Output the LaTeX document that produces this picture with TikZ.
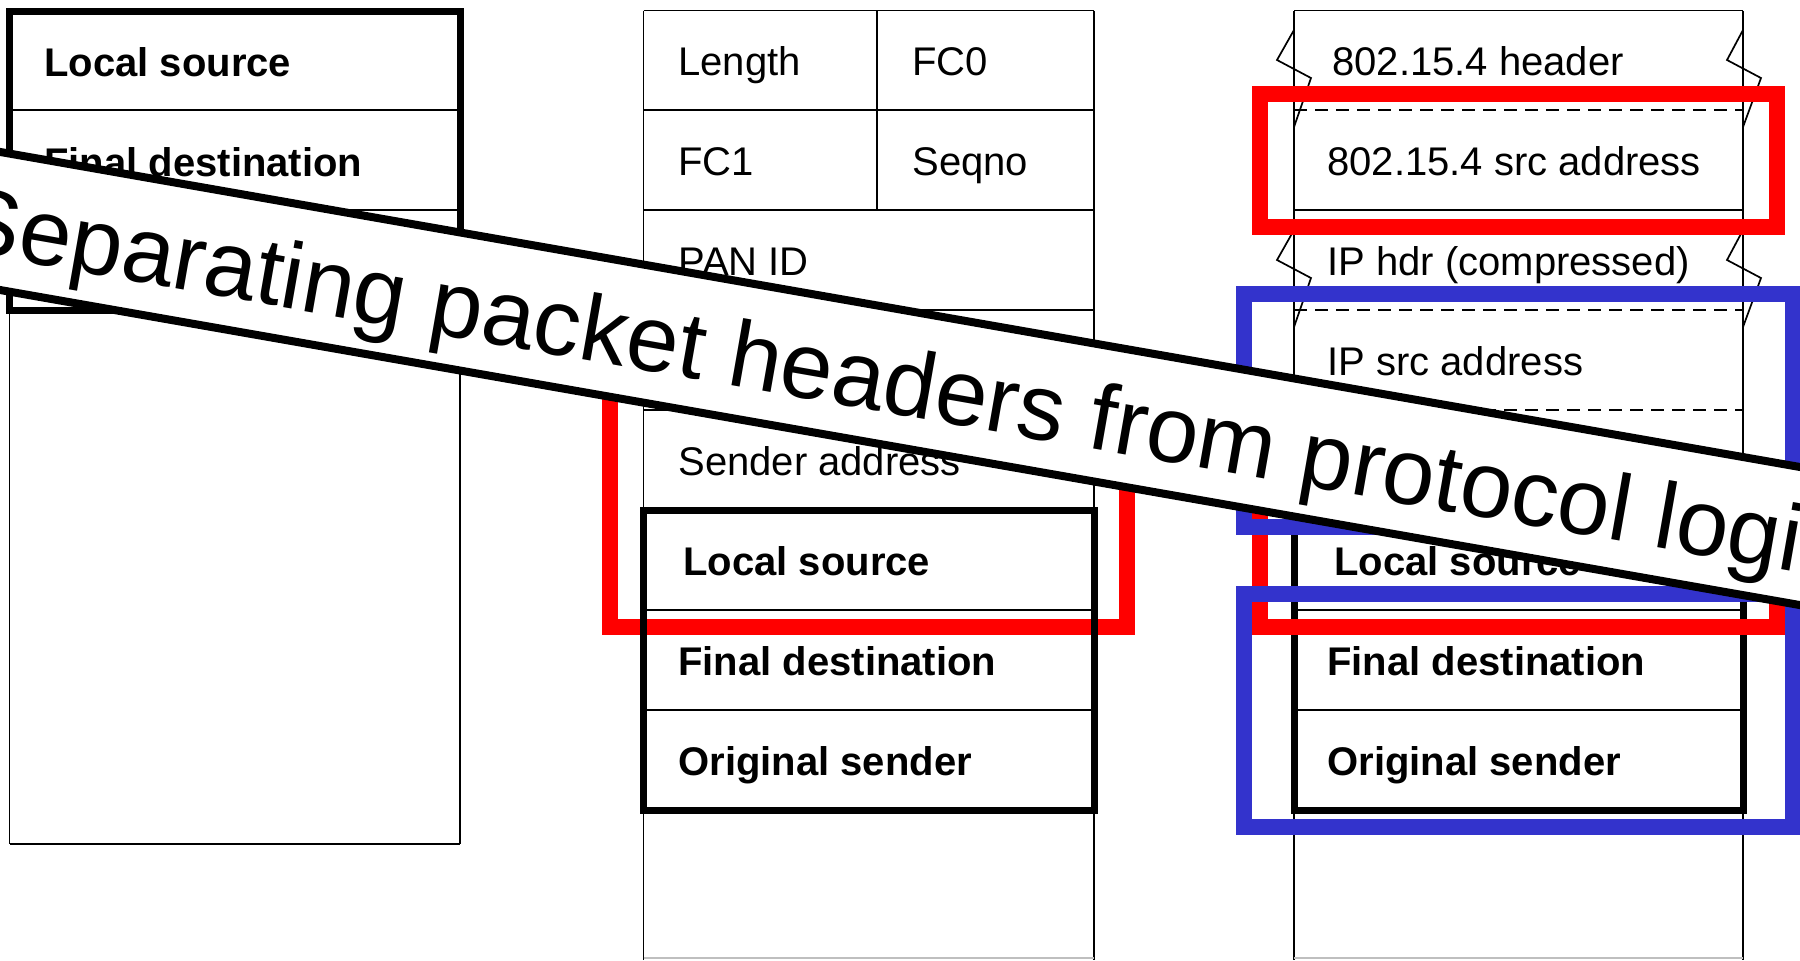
\documentclass[tikz,border=0pt]{standalone}
\usepackage{fontspec}
\setmainfont{Liberation Sans}
\begin{document}
\begin{tikzpicture}[x=0.5pt,y=-0.5pt,
  thinln/.style={line width=0.85pt, black},
  dashln/.style={line width=0.85pt, black, dash pattern=on 6.5pt off 4pt},
  thickbox/.style={line width=3.5pt, black},
  redbox/.style={line width=8pt, draw={rgb,255:red,255;green,0;blue,0}},
  bluebox/.style={line width=8pt, draw={rgb,255:red,51;green,51;blue,204}},
  txt/.style={anchor=base west, inner sep=0pt, font=\fontsize{20}{24}\selectfont},
  btxt/.style={anchor=base west, inner sep=0pt, font=\bfseries\fontsize{20}{24}\selectfont},
  banner/.style={draw, fill=white, line width=4pt, rotate=-9.93, minimum width=1300pt, minimum height=68pt, inner sep=0pt},
  bannertxt/.style={rotate=-9.93, anchor=base, inner sep=0pt, font=\fontsize{47}{56}\selectfont}
]
\useasboundingbox (0,0) rectangle (1800,960);
\clip (0,0) rectangle (1800,960);
\fill[white] (0,0) rectangle (1800,960);

% ---------- left column ----------
\draw[thinln] (9.5,11) -- (9.5,844);
\draw[thinln] (460,11) -- (460,844);
\draw[line width=1.3pt] (9.5,844) -- (460,844);
\draw[thinln] (9.5,110) -- (460,110);
\draw[thinln] (9.5,210) -- (460,210);
\node[btxt] (l0) at (44,76) {Local source};
\node[btxt] (l1) at (44,176) {Final destination};

% ---------- middle column ----------
\draw[thinln] (643.5,10.5) -- (1094,10.5);
\draw[thinln] (643.5,10.5) -- (643.5,960);
\draw[thinln] (1094,10.5) -- (1094,960);
\draw[thinln] (877,10.5) -- (877,210);
\foreach \yy in {110,210,310,410,610,710}
  \draw[thinln] (643.5,\yy) -- (1094,\yy);
\draw[line width=0.6pt, black!25] (643.5,958) -- (1094,958);
\node[txt] (m0a) at (678,75) {Length};
\node[txt] (m0b) at (912,75) {FC0};
\node[txt] (m1a) at (678,175) {FC1};
\node[txt] (m1b) at (912,175) {Seqno};
\node[txt] (m2) at (678,275) {PAN ID};
\node[txt] (m4) at (678,475) {Sender address};
\node[btxt] (m5) at (683,575) {Local source};
\node[btxt] (m6) at (678,675) {Final destination};
\node[btxt] (m7) at (678,775) {Original sender};

% ---------- right column ----------
\draw[thinln] (1294,10.5) -- (1743,10.5);
\draw[thinln] (1294,10.5) -- (1294,960);
\draw[thinln] (1743,10.5) -- (1743,960);
\draw[dashln] (1294,110) -- (1743,110);
\draw[thinln] (1294,210) -- (1743,210);
\draw[dashln] (1294,310) -- (1743,310);
\draw[dashln] (1294,410) -- (1743,410);
\draw[thinln] (1294,610) -- (1743,610);
\draw[thinln] (1294,710) -- (1743,710);
\draw[line width=0.6pt, black!25] (1294,958) -- (1743,958);
% break marks
\foreach \dy in {0,200}{
  \draw[thinln] (1294,30+\dy) -- (1277,60+\dy) -- (1311,78+\dy) -- (1294,127+\dy);
  \draw[thinln] (1743,30+\dy) -- (1727,60+\dy) -- (1761,78+\dy) -- (1743,127+\dy);
}
\node[txt] (r0) at (1332,75) {802.15.4 header};
\node[txt] (r1) at (1327,175) {802.15.4 src address};
\node[txt] (r2) at (1327,275) {IP hdr (compressed)};
\node[txt] (r3) at (1327,375) {IP src address};
\node[btxt] (r5) at (1334,575) {Local source};
\node[btxt] (r6) at (1327,675) {Final destination};
\node[btxt] (r7) at (1327,775) {Original sender};

% ---------- highlight (middle, under black) ----------
\draw[redbox] (610,375) rectangle (1127,627);

% ---------- thick black boxes ----------
\draw[thickbox] (9.5,11) rectangle (460,310);
\draw[thickbox] (643.5,510.5) rectangle (1094,810);
\draw[thickbox] (1294,510.5) rectangle (1743,810);

% ---------- highlights (right, above black) ----------
\draw[redbox] (1260,94) rectangle (1777,227);
\draw[redbox] (1260,487) rectangle (1777,627);
\draw[bluebox] (1244,294) rectangle (1793,527);
\draw[bluebox] (1244,594) rectangle (1793,827);

% ---------- banner ----------
\node[banner] (band) at (900,378.5) {};
\node[bannertxt] (title) at (898,415) {Separating packet headers from protocol logic};
\end{tikzpicture}
\end{document}
